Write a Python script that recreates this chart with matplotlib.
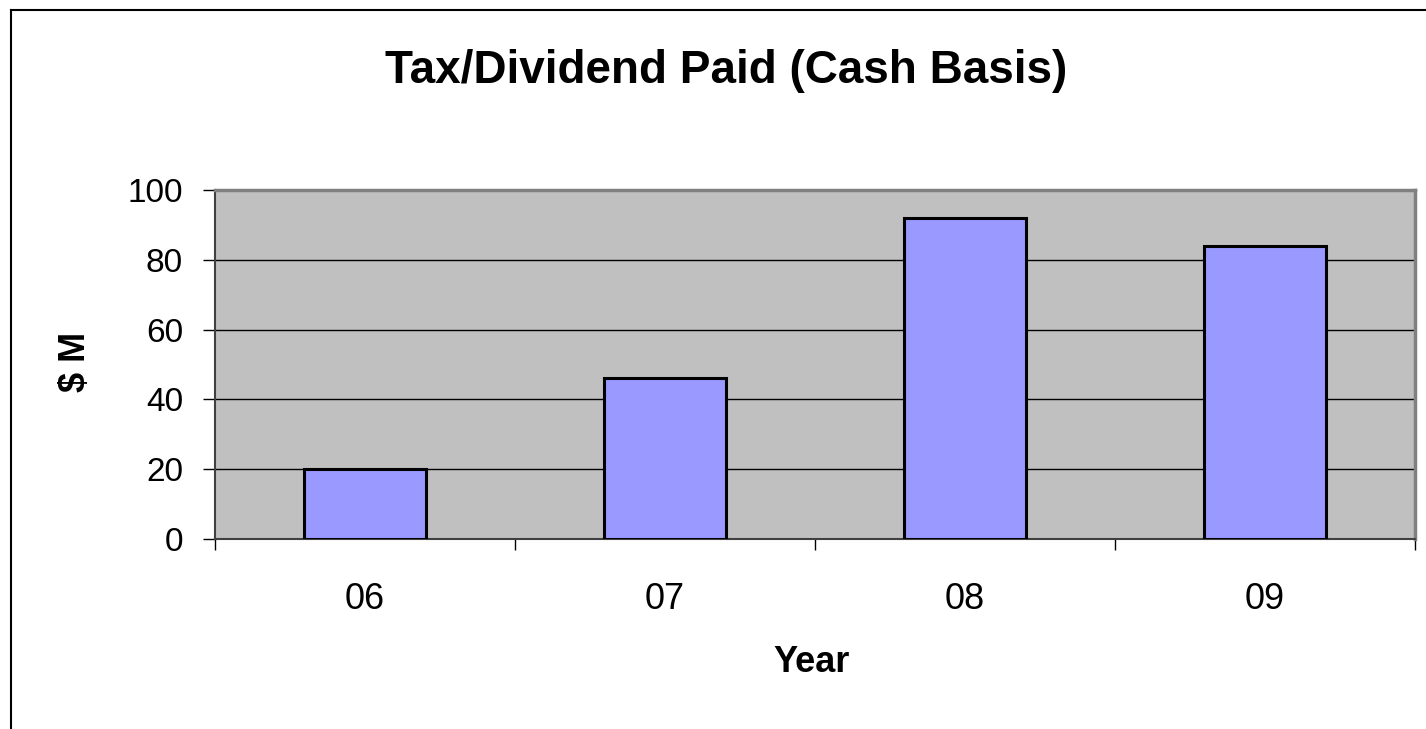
import numpy as np
import matplotlib.pyplot as plt
from matplotlib.lines import Line2D

plt.rcParams['font.family'] = ['Liberation Sans', 'DejaVu Sans']

years = ['06', '07', '08', '09']
paid = [20, 46, 92, 84]

W, H = 1426, 729
fig = plt.figure(figsize=(W/100, H/100), dpi=100)
ax = fig.add_axes([215/W, 1-539/H, 1200/W, 349/H])

x = np.arange(len(years))
ax.set_facecolor('#C0C0C0')
ax.bar(x, paid, width=0.407, color='#9999FF', edgecolor='black', linewidth=2.2, zorder=3)

ax.set_xlim(-0.5, len(years)-0.5)
ax.set_ylim(0, 100)
ax.set_yticks(np.arange(0, 101, 20))
ax.yaxis.grid(True, color='black', linewidth=1)
ax.set_axisbelow(True)

ax.set_xticks(x)
ax.set_xticklabels(years, fontsize=26)
ax.set_xticks(np.arange(-0.5, len(years)), minor=True)
ax.tick_params(axis='x', which='major', length=0, pad=31)
ax.tick_params(axis='x', which='minor', length=8, width=1, color='black')
ax.tick_params(axis='y', length=9, width=1, pad=14, labelsize=24)

for s in ['top', 'right']:
    ax.spines[s].set_color('#808080')
    ax.spines[s].set_linewidth(2.5)
for s in ['left', 'bottom']:
    ax.spines[s].set_color('#404040')
    ax.spines[s].set_linewidth(1.5)

fig.text(75/W, 1-362/H, '$ M', fontsize=26, fontweight='bold', rotation=90,
         ha='center', va='center')
fig.text(812/W, 1-672/H, 'Year', fontsize=26, fontweight='bold',
         ha='center', va='baseline')
fig.text(726/W, 1-83/H, 'Tax/Dividend Paid (Cash Basis)', fontsize=33,
         fontweight='bold', ha='center', va='baseline')

# chart border (left and top visible)
fig.add_artist(Line2D([10.5/W, 10.5/W], [0, 1-10/H], color='black', linewidth=1.5))
fig.add_artist(Line2D([10.5/W, 1], [1-10/H, 1-10/H], color='black', linewidth=1.5))

fig.savefig('out.png', dpi=100)
